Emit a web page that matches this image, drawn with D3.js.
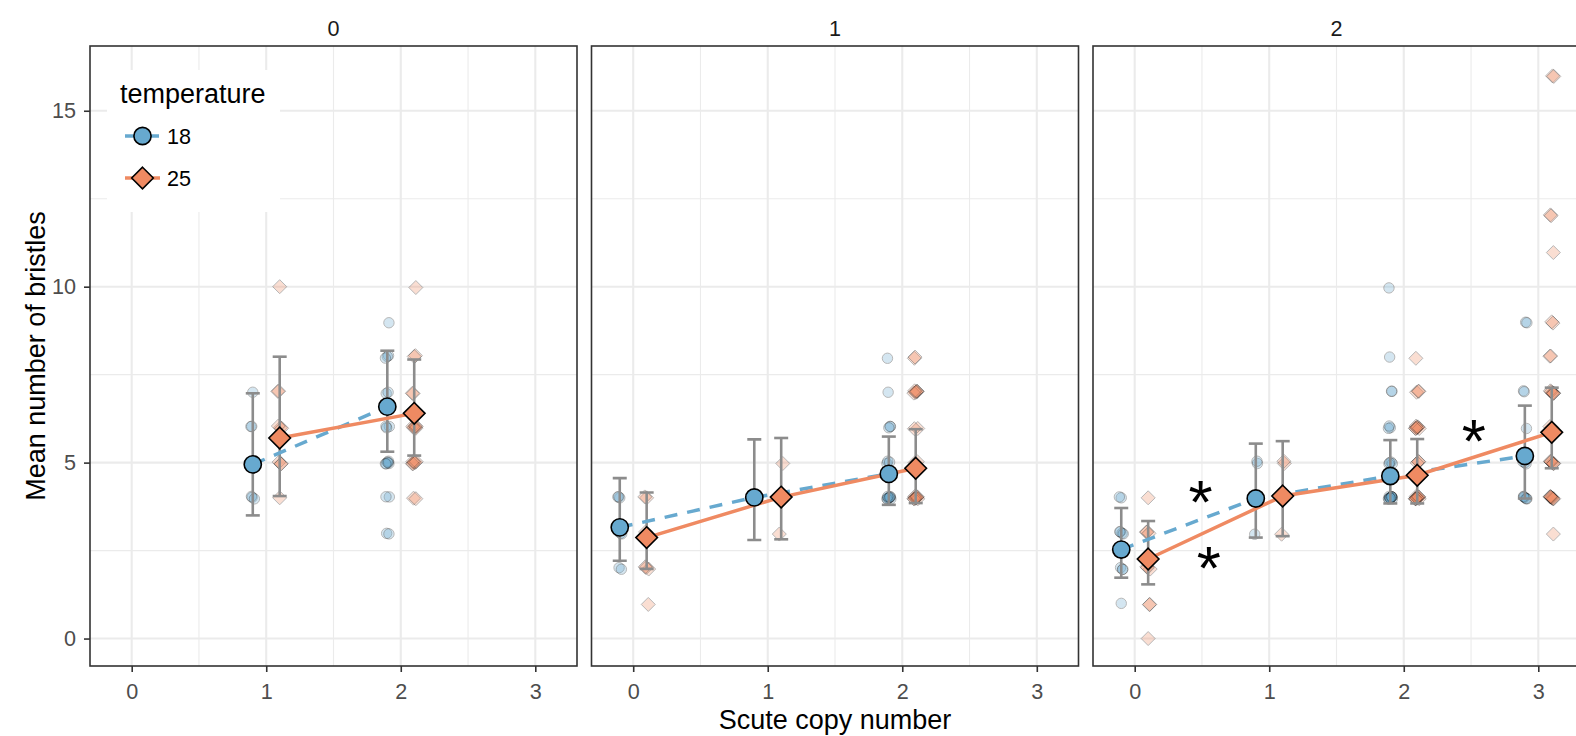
<!DOCTYPE html>
<html>
<head>
<meta charset="utf-8">
<script src="https://cdn.jsdelivr.net/npm/d3@7"></script>
<style>
  body { margin: 0; background: #fff; }
  svg { display: block; font-family: "Liberation Sans", Arial, sans-serif; }
</style>
</head>
<body>
<div id="chart"></div>
<script>
// facets = initial scute copy number background
const facetLabels = ['0', '1', '2'];
const copyNumbers = [[1, 2], [0, 1, 2], [0, 1, 2, 3]];
const temperatures = ['18', '25'];

// group means and error bar limits, per facet, per copy number
const mean18 = [[4.95, 6.59], [3.16, 4.01, 4.68], [2.53, 3.98, 4.62, 5.19]];
const lo18 = [[3.50, 5.31], [2.21, 2.80, 3.80], [1.73, 2.87, 3.84, 3.98]];
const hi18 = [[6.97, 8.18], [4.56, 5.66, 5.74], [3.71, 5.54, 5.64, 6.62]];
const mean25 = [[5.70, 6.40], [2.87, 4.02, 4.84], [2.26, 4.05, 4.64, 5.86]];
const lo25 = [[4.05, 5.20], [1.98, 2.82, 3.85], [1.54, 2.91, 3.84, 4.84]];
const hi25 = [[8.01, 7.93], [4.15, 5.70, 5.95], [3.34, 5.61, 5.67, 7.13]];

// raw bristle counts per fly
const raw18 = [
  [[7, 6, 6, 5, 5, 4, 4, 4],
   [9, 8, 8, 8, 7, 7, 6, 6, 6, 5, 5, 5, 5, 5, 5, 4, 4, 3, 3]],
  [[4, 4, 4, 3, 3, 3, 2, 2],
   [4, 4, 4],
   [8, 7, 6, 6, 6, 5, 5, 5, 4, 4, 4, 4, 4, 4, 4, 4, 4]],
  [[4, 4, 3, 3, 3, 3, 2, 2, 2, 1],
   [5, 5, 4, 4, 3],
   [10, 8, 7, 7, 6, 6, 6, 5, 5, 5, 5, 4, 4, 4, 4, 4, 4, 4, 4, 4, 4, 4, 4],
   [9, 9, 7, 7, 6, 5, 5, 5, 4, 4, 4, 4, 4, 4]]
];
const raw25 = [
  [[10, 7, 7, 6, 6, 6, 5, 5, 5, 4],
   [10, 8, 8, 7, 7, 6, 6, 6, 6, 6, 6, 5, 5, 5, 5, 5, 5, 4, 4]],
  [[4, 4, 3, 3, 2, 2, 2, 1],
   [5, 4, 4, 3],
   [8, 8, 7, 7, 7, 7, 7, 7, 6, 6, 5, 5, 4, 4, 4, 4, 4, 4, 4, 4, 4]],
  [[4, 3, 3, 3, 2, 2, 2, 1, 1, 0],
   [5, 5, 4, 4, 3],
   [8, 7, 7, 7, 6, 6, 6, 6, 6, 6, 6, 5, 5, 5, 4, 4, 4, 4, 4, 4, 4, 4, 4, 4],
   [16, 16, 12, 12, 11, 9, 9, 8, 8, 7, 7, 7, 7, 7, 7, 6, 6, 5, 5, 5, 5, 5, 5, 4, 4, 4, 4, 4, 4, 4, 4, 3]]
];

// significance stars (facet, copy number, value)
const stars = [[2, 0.49, 4.15], [2, 0.55, 2.25], [2, 2.52, 5.88]];

const xTicks = [0, 1, 2, 3];
const yTicks = [0, 5, 10, 15];

const W = 1576, H = 736;
const panelW = 487;
const panelLeft = [90, 591.5, 1093];
const panelTop = 46, panelBottom = 666;
const colors = {'18': '#67a9cf', '25': '#ef8a62'};
const dodge = {'18': -0.1, '25': 0.1};
const smallFont = 21.6, bigFont = 27;

const x = d3.scaleLinear().domain([-0.31, 3.31]).range([0, panelW]);
const y = d3.scaleLinear().domain([-0.78, 16.84]).range([panelBottom, panelTop]);

const svg = d3.select('#chart').append('svg')
    .attr('width', W)
    .attr('height', H);

// small fixed jitter pattern so stacked points show through
const jitX = [0, 0.012, -0.01, 0.006, -0.014, 0.009, -0.005, 0.015, -0.008];
const jitY = [0, 0.03, -0.025, 0.015, -0.035, 0.025, -0.01, 0.04, -0.03];

const diamond = (s) => 'M0,' + (-s) + 'L' + s + ',0L0,' + s + 'L' + (-s) + ',0Z';

facetLabels.forEach(function(label, f) {
  const g = svg.append('g')
      .attr('transform', 'translate(' + panelLeft[f] + ',0)');

  g.append('clipPath').attr('id', 'clip' + f)
      .append('rect')
      .attr('x', 0).attr('y', panelTop)
      .attr('width', panelW).attr('height', panelBottom - panelTop);

  // grid
  const grid = g.append('g');
  grid.selectAll('line.ymin').data([2.5, 7.5, 12.5]).enter().append('line')
      .attr('x1', 0).attr('x2', panelW)
      .attr('y1', (d) => y(d)).attr('y2', (d) => y(d))
      .attr('stroke', '#ebebeb').attr('stroke-width', 1.1);
  grid.selectAll('line.xmin').data([0.5, 1.5, 2.5]).enter().append('line')
      .attr('y1', panelTop).attr('y2', panelBottom)
      .attr('x1', (d) => x(d)).attr('x2', (d) => x(d))
      .attr('stroke', '#ebebeb').attr('stroke-width', 1.1);
  grid.selectAll('line.ymaj').data(yTicks).enter().append('line')
      .attr('x1', 0).attr('x2', panelW)
      .attr('y1', (d) => y(d)).attr('y2', (d) => y(d))
      .attr('stroke', '#ebebeb').attr('stroke-width', 2.1);
  grid.selectAll('line.xmaj').data(xTicks).enter().append('line')
      .attr('y1', panelTop).attr('y2', panelBottom)
      .attr('x1', (d) => x(d)).attr('x2', (d) => x(d))
      .attr('stroke', '#ebebeb').attr('stroke-width', 2.1);

  const plot = g.append('g').attr('clip-path', 'url(#clip' + f + ')');

  // raw points
  temperatures.forEach(function(t) {
    const raw = t === '18' ? raw18 : raw25;
    const pts = [];
    copyNumbers[f].forEach(function(c, k) {
      raw[f][k].forEach(function(v, i) {
        pts.push({x: c + dodge[t] + jitX[(i * 4 + k) % jitX.length],
          y: v + jitY[(i * 5 + k * 2) % jitY.length]});
      });
    });
    const sel = plot.selectAll('path.raw' + t).data(pts).enter().append('path')
        .attr('transform', (d) => 'translate(' + x(d.x) + ',' + y(d.y) + ')')
        .attr('fill', colors[t])
        .attr('stroke', '#000')
        .attr('stroke-width', 1)
        .attr('opacity', 0.28);
    if (t === '18') {
      sel.attr('d', d3.symbol(d3.symbolCircle, Math.PI * 27));
    } else {
      sel.attr('d', diamond(7));
    }
  });

  // error bars
  temperatures.forEach(function(t) {
    const lo = t === '18' ? lo18 : lo25;
    const hi = t === '18' ? hi18 : hi25;
    const rows = copyNumbers[f].map((c, k) => ({x: c + dodge[t], lo: lo[f][k], hi: hi[f][k]}));
    const eb = plot.selectAll('g.eb' + t).data(rows).enter().append('g')
        .attr('stroke', '#8c8c8c').attr('stroke-width', 2.6);
    eb.append('line')
        .attr('x1', (d) => x(d.x)).attr('x2', (d) => x(d.x))
        .attr('y1', (d) => y(d.lo)).attr('y2', (d) => y(d.hi));
    eb.append('line')
        .attr('x1', (d) => x(d.x) - 7).attr('x2', (d) => x(d.x) + 7)
        .attr('y1', (d) => y(d.lo)).attr('y2', (d) => y(d.lo));
    eb.append('line')
        .attr('x1', (d) => x(d.x) - 7).attr('x2', (d) => x(d.x) + 7)
        .attr('y1', (d) => y(d.hi)).attr('y2', (d) => y(d.hi));
  });

  // lines
  const line = d3.line().x((d) => x(d.x)).y((d) => y(d.y));
  temperatures.forEach(function(t) {
    const m = t === '18' ? mean18 : mean25;
    const rows = copyNumbers[f].map((c, k) => ({x: c + dodge[t], y: m[f][k]}));
    plot.append('path')
        .datum(rows)
        .attr('d', line)
        .attr('fill', 'none')
        .attr('stroke', colors[t])
        .attr('stroke-width', 3.5)
        .attr('stroke-dasharray', t === '18' ? '13 10' : null);
  });

  // mean points
  temperatures.forEach(function(t) {
    const m = t === '18' ? mean18 : mean25;
    const rows = copyNumbers[f].map((c, k) => ({x: c + dodge[t], y: m[f][k]}));
    const sel = plot.selectAll('path.mean' + t).data(rows).enter().append('path')
        .attr('transform', (d) => 'translate(' + x(d.x) + ',' + y(d.y) + ')')
        .attr('fill', colors[t])
        .attr('stroke', '#000')
        .attr('stroke-width', 1.6);
    if (t === '18') {
      sel.attr('d', d3.symbol(d3.symbolCircle, Math.PI * 8.6 * 8.6));
    } else {
      sel.attr('d', diamond(10.8));
    }
  });

  // stars
  plot.selectAll('text.star').data(stars.filter((s) => s[0] === f)).enter().append('text')
      .attr('x', (d) => x(d[1]))
      .attr('y', (d) => y(d[2]) + 30)
      .attr('text-anchor', 'middle')
      .attr('font-size', 62)
      .attr('fill', '#000')
      .text('*');

  // border
  g.append('rect')
      .attr('x', 0).attr('y', panelTop)
      .attr('width', panelW).attr('height', panelBottom - panelTop)
      .attr('fill', 'none')
      .attr('stroke', '#333333')
      .attr('stroke-width', 1.6);

  // x axis
  const xa = g.append('g')
      .attr('transform', 'translate(0,' + panelBottom + ')')
      .call(d3.axisBottom(x).tickValues(xTicks).tickFormat(d3.format('d')).tickSize(6).tickPadding(12));
  xa.select('.domain').remove();
  xa.selectAll('line').attr('stroke', '#333333').attr('stroke-width', 1.6);
  xa.selectAll('text').attr('fill', '#4d4d4d').attr('font-size', smallFont)
      .attr('font-family', '"Liberation Sans", Arial, sans-serif');

  if (f === 0) {
    const ya = g.append('g')
        .call(d3.axisLeft(y).tickValues(yTicks).tickSize(6).tickPadding(8));
    ya.select('.domain').remove();
    ya.selectAll('line').attr('stroke', '#333333').attr('stroke-width', 1.6);
    ya.selectAll('text').attr('fill', '#4d4d4d').attr('font-size', smallFont)
        .attr('font-family', '"Liberation Sans", Arial, sans-serif');
  }

  // strip label
  g.append('text')
      .attr('x', panelW / 2)
      .attr('y', 36)
      .attr('text-anchor', 'middle')
      .attr('font-size', smallFont)
      .attr('fill', '#1a1a1a')
      .text(label);
});

// legend
const legend = svg.append('g');
legend.append('rect')
    .attr('x', 107).attr('y', 70)
    .attr('width', 173).attr('height', 142)
    .attr('fill', '#fff');
legend.append('text')
    .attr('x', 120).attr('y', 103)
    .attr('font-size', bigFont)
    .attr('fill', '#000')
    .text('temperature');
temperatures.forEach(function(t, i) {
  const ky = 136 + i * 42;
  legend.append('line')
      .attr('x1', 125).attr('x2', 160)
      .attr('y1', ky).attr('y2', ky)
      .attr('stroke', colors[t])
      .attr('stroke-width', 3.5)
      .attr('stroke-dasharray', t === '18' ? '9 16' : null);
  legend.append('path')
      .attr('transform', 'translate(142.5,' + ky + ')')
      .attr('d', t === '18' ? d3.symbol(d3.symbolCircle, Math.PI * 8.6 * 8.6)() : diamond(10.8))
      .attr('fill', colors[t])
      .attr('stroke', '#000')
      .attr('stroke-width', 1.6);
  legend.append('text')
      .attr('x', 167).attr('y', ky + 7.5)
      .attr('font-size', smallFont)
      .attr('fill', '#000')
      .text(t);
});

// axis titles
svg.append('text')
    .attr('transform', 'translate(45,' + ((panelTop + panelBottom) / 2) + ') rotate(-90)')
    .attr('text-anchor', 'middle')
    .attr('font-size', bigFont)
    .attr('fill', '#000')
    .text('Mean number of bristles');
svg.append('text')
    .attr('x', (panelLeft[0] + panelLeft[2] + panelW) / 2)
    .attr('y', 729)
    .attr('text-anchor', 'middle')
    .attr('font-size', bigFont)
    .attr('fill', '#000')
    .text('Scute copy number');
</script>
</body>
</html>
